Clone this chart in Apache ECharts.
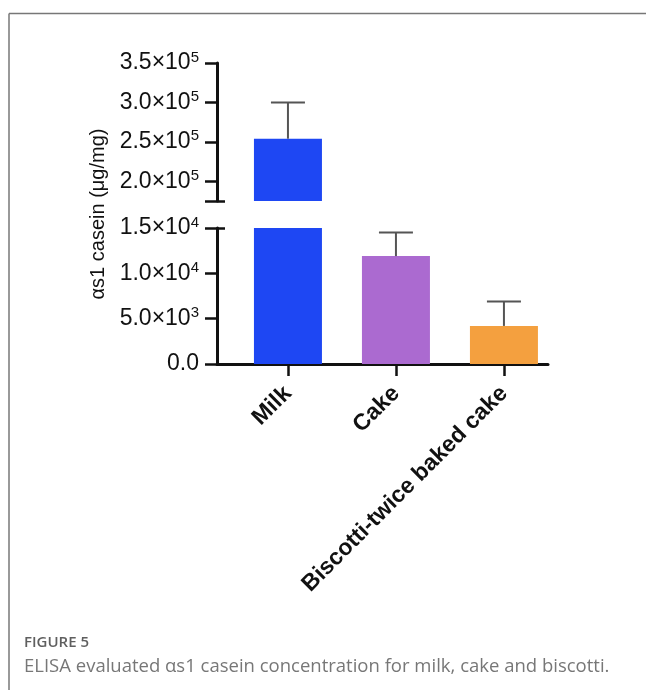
<!DOCTYPE html>
<html>
<head>
<meta charset="utf-8">
<script src="https://cdn.jsdelivr.net/npm/echarts@6/dist/echarts.min.js"></script>
<style>
  html, body { margin: 0; padding: 0; background: #fff; }
  #chart { width: 646px; height: 690px; }
</style>
</head>
<body>
<div id="chart"></div>
<script>
// values
const categories = ['Milk', 'Cake', 'Biscotti-twice baked cake'];
const means = [254000, 11900, 4200];
const errors = [46000, 2600, 2700];
const colors = ['#1e47f3', '#ab6ad0', '#f4a03f'];

// broken y axis: two segments
const upperTicks = [200000, 250000, 300000, 350000];
const upperLabels = [['2.0×10', '5'], ['2.5×10', '5'], ['3.0×10', '5'], ['3.5×10', '5']];
const lowerTicks = [0, 5000, 10000, 15000];
const lowerLabels = [['0.0', ''], ['5.0×10', '3'], ['1.0×10', '4'], ['1.5×10', '4']];
const upperRange = [175000, 350000];
const lowerRange = [0, 15000];

const xPos = categories.map((c, i) => i + 1);
const xRange = [0.343, 3.408];

const font = "'Liberation Sans', Arial, sans-serif";
const axisColor = '#111';

function labelFor(ticks, labels) {
  return function (v) {
    const i = ticks.indexOf(v);
    if (i < 0) return '';
    const l = labels[i];
    return l[1] ? '{a|' + l[0] + '}{s|' + l[1] + '}' : '{a|' + l[0] + '}';
  };
}

const richLabel = {
  a: { fontSize: 23, fontFamily: font, color: axisColor, lineHeight: 26 },
  s: { fontSize: 15, fontFamily: font, color: axisColor, lineHeight: 15, verticalAlign: 'top' }
};

function valueAxis(grid, range, ticks, labels) {
  return {
    type: 'value', gridIndex: grid, min: range[0], max: range[1],
    splitLine: { show: false },
    axisLine: { show: true, lineStyle: { color: axisColor, width: 3 } },
    axisTick: {
      show: true, length: 12, customValues: ticks.concat(grid === 0 ? [range[0]] : []),
      lineStyle: { color: axisColor, width: 2.5 }
    },
    axisLabel: {
      customValues: ticks, margin: 18, formatter: labelFor(ticks, labels), rich: richLabel
    }
  };
}

// short inward stubs that mark the axis break
function breakAxis(grid, range, at) {
  return {
    type: 'value', gridIndex: grid, min: range[0], max: range[1], position: 'left',
    splitLine: { show: false }, axisLine: { show: false }, axisLabel: { show: false },
    axisTick: { show: true, inside: true, length: 8, customValues: [at], lineStyle: { color: axisColor, width: 2.5 } }
  };
}

function errorBar(params, api) {
  const x = api.value(0);
  const p0 = api.coord([x, api.value(1)]);
  const p1 = api.coord([x, api.value(2)]);
  const half = 17;
  const style = { stroke: '#555', lineWidth: 2 };
  return {
    type: 'group',
    children: [
      { type: 'line', shape: { x1: p0[0], y1: p0[1], x2: p1[0], y2: p1[1] }, style: style },
      { type: 'line', shape: { x1: p1[0] - half, y1: p1[1], x2: p1[0] + half, y2: p1[1] }, style: style }
    ]
  };
}

const barItems = means.map((v, i) => ({ value: [xPos[i], v], itemStyle: { color: colors[i] } }));
const upperBars = barItems.filter((d, i) => means[i] > lowerRange[1]);
const errItems = means.map((v, i) => [xPos[i], v, v + errors[i]]);
const upperErr = errItems.filter((d, i) => means[i] > lowerRange[1]);
const lowerErr = errItems.filter((d, i) => means[i] <= lowerRange[1]);

const chart = echarts.init(document.getElementById('chart'), null, { renderer: 'canvas' });

chart.setOption({
  backgroundColor: '#fff',
  animation: false,
  grid: [
    { left: 217, right: 98, top: 63, height: 138 },
    { left: 217, right: 98, top: 228, height: 136 }
  ],
  xAxis: [
    { type: 'value', gridIndex: 0, min: xRange[0], max: xRange[1], show: false },
    {
      type: 'value', gridIndex: 1, min: xRange[0], max: xRange[1],
      splitLine: { show: false },
      axisLine: { show: true, onZero: false, lineStyle: { color: axisColor, width: 3 } },
      axisTick: { show: true, length: 12, customValues: xPos, lineStyle: { color: axisColor, width: 2.5 } },
      axisLabel: {
        customValues: xPos, rotate: 45, margin: 26,
        formatter: v => categories[v - 1] || '',
        fontSize: 23, fontWeight: 'bold', fontFamily: font, color: axisColor
      }
    }
  ],
  yAxis: [
    valueAxis(0, upperRange, upperTicks, upperLabels),
    breakAxis(0, upperRange, upperRange[0]),
    valueAxis(1, lowerRange, lowerTicks, lowerLabels),
    breakAxis(1, lowerRange, lowerRange[1])
  ],
  series: [
    { type: 'bar', xAxisIndex: 0, yAxisIndex: 0, barWidth: 68, data: upperBars, clip: true },
    { type: 'bar', xAxisIndex: 1, yAxisIndex: 2, barWidth: 68, data: barItems, clip: true },
    { type: 'custom', xAxisIndex: 0, yAxisIndex: 0, renderItem: errorBar, encode: { x: 0, y: [1, 2] }, data: upperErr, z: 3 },
    { type: 'custom', xAxisIndex: 1, yAxisIndex: 2, renderItem: errorBar, encode: { x: 0, y: [1, 2] }, data: lowerErr, z: 3 }
  ],
  graphic: [
    { type: 'line', shape: { x1: 9, y1: 13.5, x2: 646, y2: 13.5 }, style: { stroke: '#777', lineWidth: 1.5 } },
    { type: 'line', shape: { x1: 9, y1: 13.5, x2: 9, y2: 690 }, style: { stroke: '#777', lineWidth: 1.5 } },
    {
      type: 'text', x: 98, y: 214, rotation: Math.PI / 2,
      style: { text: 'αs1 casein (μg/mg)', fontSize: 20, fontFamily: font, fill: axisColor, align: 'center', verticalAlign: 'middle' }
    },
    {
      type: 'text', x: 24, y: 643,
      style: { text: 'FIGURE 5', fontSize: 15, fontWeight: 600, fontFamily: "'Open Sans', sans-serif", fill: '#5f5f5f', verticalAlign: 'middle' }
    },
    {
      type: 'text', x: 24, y: 667,
      style: { text: 'ELISA evaluated αs1 casein concentration for milk, cake and biscotti.', fontSize: 18.5, fontFamily: "'Open Sans', sans-serif", fill: '#777', verticalAlign: 'middle' }
    }
  ]
});
</script>
</body>
</html>
